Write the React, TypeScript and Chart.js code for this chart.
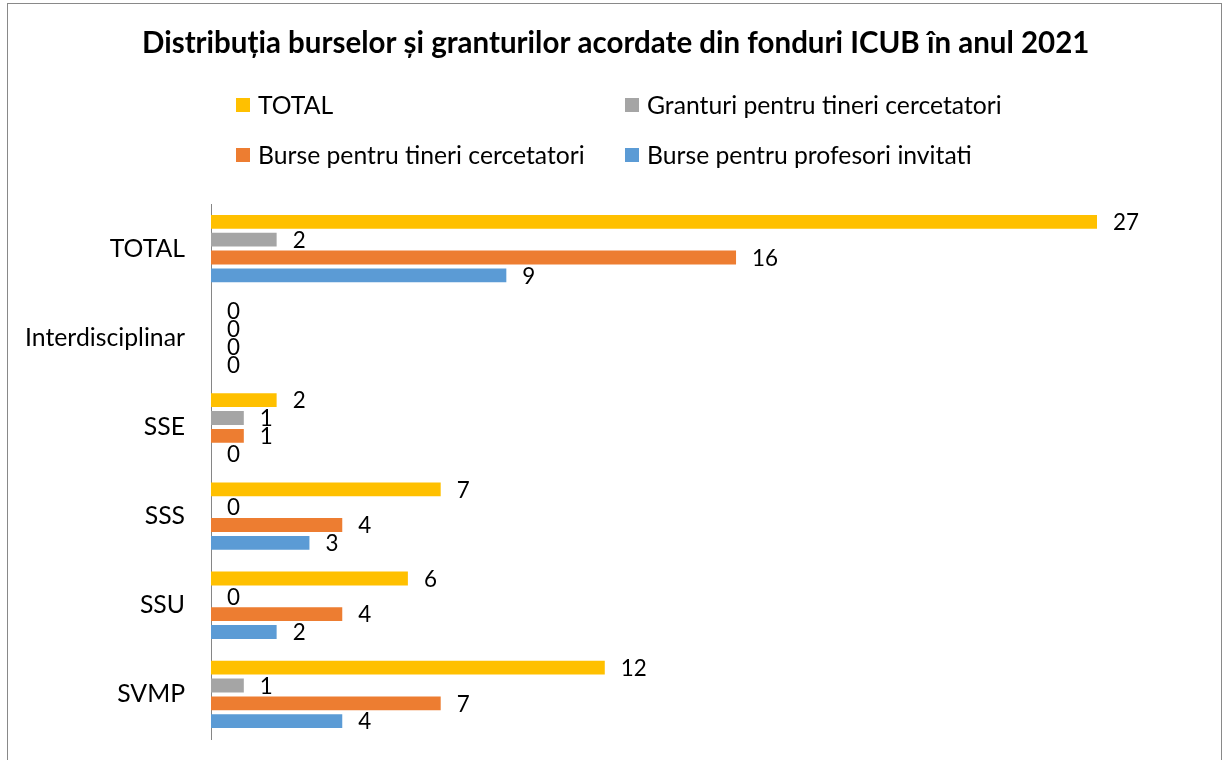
import React, { useEffect, useRef } from "react";
import { Chart, registerables } from "chart.js";

Chart.register(...registerables);

const categories = ["TOTAL", "Interdisciplinar", "SSE", "SSS", "SSU", "SVMP"];
const seriesNames = [
  "TOTAL",
  "Granturi pentru tineri cercetatori",
  "Burse pentru tineri cercetatori",
  "Burse pentru profesori invitati",
];
const totalValues = [27, 0, 2, 7, 6, 12];
const granturiValues = [2, 0, 1, 0, 0, 1];
const burseTineriValues = [16, 0, 1, 4, 4, 7];
const burseProfesoriValues = [9, 0, 0, 3, 2, 4];
const seriesColors = ["#FFC000", "#A5A5A5", "#ED7D31", "#5B9BD5"];
const titleText =
  "Distribuția burselor și granturilor acordate din fonduri ICUB în anul 2021";

const FAMILY = "Lato, 'Noto Sans', sans-serif";

function fitSize(text: string, weight: string, target: number): number {
  const c = document.createElement("canvas").getContext("2d")!;
  c.font = `${weight} 100px ${FAMILY}`;
  const w = c.measureText(text).width;
  return (100 * target) / w;
}

export default function App() {
  const ref = useRef<HTMLCanvasElement | null>(null);

  useEffect(() => {
    const canvas = ref.current;
    if (!canvas) return;

    const titleSize = fitSize(titleText, "bold", 948);
    const legendSize = fitSize("Burse pentru tineri cercetatori", "normal", 327);
    const tickSize = fitSize("Interdisciplinar", "normal", 160);
    const labelSize = fitSize("27", "normal", 26);

    const allSeries = [totalValues, granturiValues, burseTineriValues, burseProfesoriValues];

    const decor = {
      id: "decor",
      beforeDraw(chart: any) {
        const ctx = chart.ctx;
        ctx.save();
        ctx.fillStyle = "#ffffff";
        ctx.fillRect(0, 0, chart.width, chart.height);
        ctx.strokeStyle = "#898989";
        ctx.lineWidth = 1;
        ctx.strokeRect(7.5, 3.5, 1214, 900);
        ctx.restore();
      },
      afterDraw(chart: any) {
        const ctx = chart.ctx;
        ctx.save();
        // title
        ctx.fillStyle = "#000000";
        ctx.font = `bold ${titleSize}px ${FAMILY}`;
        ctx.textAlign = "left";
        ctx.textBaseline = "alphabetic";
        ctx.fillText(titleText, 142, 53);

        // legend (2 columns)
        const legendPos = [
          { x: 236, y: 105 },
          { x: 625, y: 105 },
          { x: 236, y: 155 },
          { x: 625, y: 155 },
        ];
        ctx.font = `${legendSize}px ${FAMILY}`;
        ctx.textBaseline = "middle";
        seriesNames.forEach((name, i) => {
          const p = legendPos[i];
          ctx.fillStyle = seriesColors[i];
          ctx.fillRect(p.x, p.y - 7, 14, 14);
          ctx.fillStyle = "#000000";
          ctx.fillText(name, p.x + 22, p.y + 1);
        });

        // data labels
        ctx.font = `${labelSize}px ${FAMILY}`;
        ctx.textAlign = "left";
        ctx.textBaseline = "middle";
        ctx.fillStyle = "#000000";
        chart.data.datasets.forEach((ds: any, di: number) => {
          const meta = chart.getDatasetMeta(di);
          meta.data.forEach((bar: any, i: number) => {
            const v = ds.data[i];
            ctx.fillText(String(v), bar.x + 16, bar.y + 1);
          });
        });
        ctx.restore();
      },
    };

    const chart = new Chart(canvas, {
      type: "bar",
      data: {
        labels: categories,
        datasets: seriesNames.map((name, i) => ({
          label: name,
          data: allSeries[i],
          backgroundColor: seriesColors[i],
          borderWidth: 0,
          categoryPercentage: 0.8,
          barPercentage: 0.78,
        })),
      },
      options: {
        indexAxis: "y",
        responsive: false,
        animation: false,
        devicePixelRatio: 1,
        layout: { padding: { top: 204, bottom: 21, right: 127, left: 0 } },
        plugins: {
          legend: { display: false },
          title: { display: false },
          tooltip: { enabled: false },
        },
        scales: {
          x: { display: false, min: 0, max: 27 },
          y: {
            grid: { display: false, drawTicks: false },
            border: { display: true, color: "#868686", width: 1 },
            ticks: {
              color: "#000000",
              font: { family: FAMILY, size: tickSize },
              padding: 26,
            },
            afterFit: (s: any) => {
              s.width = 211;
              s.paddingTop = 0;
              s.paddingBottom = 0;
            },
          },
        },
      },
      plugins: [decor],
    } as any);

    return () => chart.destroy();
  }, []);

  return (
    <div style={{ position: "absolute", left: 0, top: 0, width: 1224, height: 760 }}>
      <canvas ref={ref} width={1224} height={760} style={{ display: "block" }} />
    </div>
  );
}
